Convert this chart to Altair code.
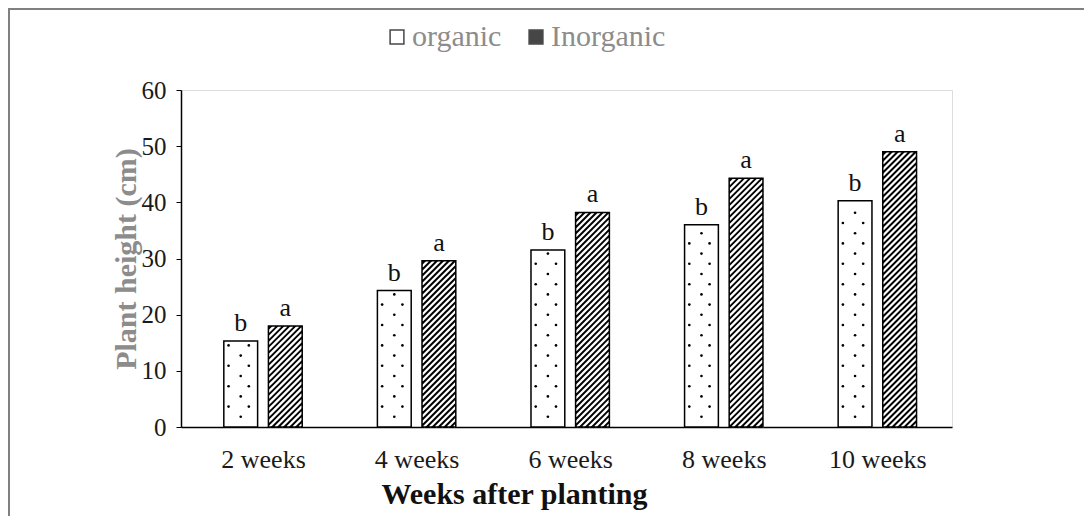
import altair as alt
import pandas as pd

# ---- data ----
weeks = ["2 weeks", "4 weeks", "6 weeks", "8 weeks", "10 weeks"]
series = ["organic", "Inorganic"]
organic = [15.3, 24.3, 31.5, 36.0, 40.3]
inorganic = [18.0, 29.6, 38.2, 44.3, 49.0]
organic_letters = ["b", "b", "b", "b", "b"]
inorganic_letters = ["a", "a", "a", "a", "a"]

# ---- layout ----
W, H = 771, 337
XDOM = [-0.034, 4.986]
YDOM = [0, 60]
PX_X = W / (XDOM[1] - XDOM[0])
PX_Y = H / (YDOM[1] - YDOM[0])
HALF_GAP = 5.4 / PX_X
BAR_W = 33.8 / PX_X
FONT = "Liberation Serif"

rows = []
for i, (wk, o, n, lo, ln) in enumerate(zip(weeks, organic, inorganic, organic_letters, inorganic_letters)):
    c = i + 0.5
    rows.append(dict(week=wk, series=series[0], x0=c - HALF_GAP - BAR_W, x1=c - HALF_GAP, value=o, letter=lo))
    rows.append(dict(week=wk, series=series[1], x0=c + HALF_GAP, x1=c + HALF_GAP + BAR_W, value=n, letter=ln))
bars = pd.DataFrame(rows)
bars["xm"] = (bars["x0"] + bars["x1"]) / 2

# texture: dots for organic, diagonal hatch for inorganic (derived from bar geometry)
dots, hatch = [], []
for r in rows:
    wpx = (r["x1"] - r["x0"]) * PX_X
    hpx = r["value"] * PX_Y
    if r["series"] == series[0]:
        k = 1
        while 10.2 * k <= hpx - 3:
            ypx = 10.2 * k
            offs = [wpx / 2] if k % 2 == 1 else [wpx * 0.14, wpx * 0.74]
            for u in offs:
                dots.append(dict(x=r["x0"] + u / PX_X, y=ypx / PX_Y))
            k += 1
    else:
        P = 6.0
        cpx = -hpx
        while cpx < wpx:
            u1 = max(0.0, cpx)
            u2 = min(wpx, hpx + cpx)
            if u2 > u1:
                hatch.append(dict(x=r["x0"] + u1 / PX_X, x2=r["x0"] + u2 / PX_X,
                                  y=(u1 - cpx) / PX_Y, y2=(u2 - cpx) / PX_Y))
            cpx += P
dots = pd.DataFrame(dots)
hatch = pd.DataFrame(hatch)

xs = alt.Scale(domain=XDOM, nice=False, zero=False)
ys = alt.Scale(domain=YDOM, nice=False)

label_arr = "[" + ",".join("'%s'" % w for w in weeks) + "]"
xaxis = alt.Axis(values=[i + 0.5 for i in range(len(weeks))],
                 labelExpr=label_arr + "[floor(datum.value)]",
                 title="Weeks after planting", ticks=False, grid=False,
                 labelFont=FONT, labelFontSize=26, labelColor="#1a1a1a", labelPadding=19,
                 titleFont=FONT, titleFontSize=30, titleFontWeight="bold", titleColor="#111",
                 titlePadding=7, titleX=333, domainColor="#000", domainWidth=1.5, labelFlush=False)
yaxis = alt.Axis(values=[0, 10, 20, 30, 40, 50, 60], title="Plant height (cm)", grid=False,
                 tickSize=5, tickColor="#000", domainColor="#000", domainWidth=1.5,
                 labelFont=FONT, labelFontSize=25, labelColor="#1a1a1a", labelPadding=10,
                 titleFont=FONT, titleFontSize=30, titleFontWeight="bold", titleColor="#8c8c8c",
                 titlePadding=0)

base = alt.Chart(bars)

fill_layer = base.mark_rect().encode(
    x=alt.X("x0:Q", scale=xs, axis=xaxis),
    x2="x1:Q",
    y=alt.Y("value:Q", scale=ys, axis=yaxis),
    y2=alt.datum(0),
    fill=alt.Fill("series:N", scale=alt.Scale(domain=series, range=["#ffffff", "#000000"]),
                  legend=alt.Legend(title=None, orient="none", direction="horizontal",
                                    legendX=201, legendY=-68, padding=0,
                                    symbolType="square", symbolSize=190,
                                    symbolStrokeColor="#000", symbolStrokeWidth=1.5,
                                    symbolOpacity=0.72, labelFont=FONT, labelFontSize=30,
                                    labelColor="#8c8c8c", labelOffset=0, columnPadding=19)),
)

hatch_layer = alt.Chart(hatch).mark_rule(color="white", strokeWidth=2.3).encode(
    x=alt.X("x:Q", scale=xs), x2="x2:Q",
    y=alt.Y("y:Q", scale=ys), y2="y2:Q",
)

dot_layer = alt.Chart(dots).mark_circle(color="#000", size=7, opacity=1).encode(
    x=alt.X("x:Q", scale=xs), y=alt.Y("y:Q", scale=ys),
)

outline_layer = base.mark_rect(fillOpacity=0, stroke="#000", strokeWidth=1.5).encode(
    x=alt.X("x0:Q", scale=xs), x2="x1:Q",
    y=alt.Y("value:Q", scale=ys), y2=alt.datum(0),
)

text_layer = base.mark_text(font=FONT, fontSize=26, baseline="bottom", dy=-5, color="#111").encode(
    x=alt.X("xm:Q", scale=xs), y=alt.Y("value:Q", scale=ys), text="letter:N",
)

border = alt.Chart(alt.Data(values=[{}])).mark_rect(fill=None, stroke="#808080", strokeWidth=2).encode(
    x=alt.value(-172), y=alt.value(-81), x2=alt.value(2000), y2=alt.value(2000),
)

chart = alt.layer(border, fill_layer, hatch_layer, dot_layer, outline_layer, text_layer).properties(
    width=W, height=H,
    autosize=alt.AutoSizeParams(type="none"),
    padding={"left": 173, "top": 82, "right": 132, "bottom": 89},
).configure_view(stroke=None).configure(background="white")

chart.save("out.html", embed_options={"renderer": "svg", "actions": False})
